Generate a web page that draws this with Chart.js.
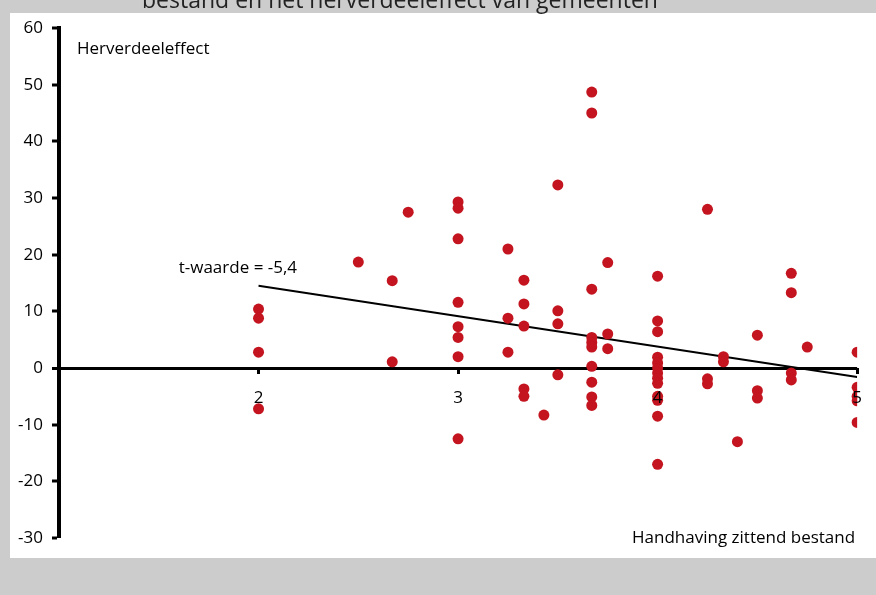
<!DOCTYPE html>
<html>
<head>
<meta charset="utf-8">
<script src="https://cdn.jsdelivr.net/npm/chart.js@4"></script>
<style>
  html, body { margin: 0; padding: 0; background: #cccccc; }
  #wrap { width: 876px; height: 595px; }
</style>
</head>
<body>
<div id="wrap"><canvas id="chart" width="876" height="595"></canvas></div>
<script>
// Handhaving zittend bestand (x) tegen herverdeeleffect (y)
const xVals = [
  2, 2, 2, 2,
  2.5,
  2.67, 2.67,
  2.75,
  3, 3, 3, 3, 3, 3, 3, 3,
  3.25, 3.25, 3.25,
  3.33, 3.33, 3.33, 3.33, 3.33,
  3.43,
  3.5, 3.5, 3.5, 3.5,
  3.67, 3.67, 3.67, 3.67, 3.67, 3.67, 3.67, 3.67, 3.67, 3.67,
  3.75, 3.75, 3.75,
  4, 4, 4, 4, 4, 4, 4, 4, 4, 4, 4, 4, 4,
  4.25, 4.25, 4.25,
  4.33, 4.33,
  4.4,
  4.5, 4.5, 4.5,
  4.67, 4.67, 4.67, 4.67,
  4.75,
  5, 5, 5, 5, 5
];
const yVals = [
  10.4, 8.8, 2.8, -7.2,
  18.7,
  15.4, 1.1,
  27.5,
  29.3, 28.2, 22.8, 11.6, 7.3, 5.4, 2.0, -12.5,
  21.0, 8.8, 2.8,
  15.5, 11.3, 7.4, -3.7, -5.0,
  -8.3,
  32.3, 10.1, 7.8, -1.2,
  48.7, 45.0, 13.9, 5.4, 4.5, 3.7, 0.3, -2.5, -5.1, -6.6,
  18.6, 6.0, 3.4,
  16.2, 8.3, 6.4, 1.9, 0.9, 0, -0.9, -1.8, -2.7, -5.0, -5.7, -8.5, -17.0,
  28.0, -1.9, -2.8,
  2.0, 1.1,
  -13.0,
  5.8, -4.0, -5.3,
  16.7, 13.3, -0.9, -2.1,
  3.7,
  2.8, -3.4, -5.0, -5.8, -9.6
];
// trendlijn
const trendX = [2, 5];
const trendY = [14.5, -1.6];

const yTicks = [-30, -20, -10, 0, 10, 20, 30, 40, 50, 60];
const xTicks = [1, 2, 3, 4, 5];

const titleText = 'bestand en het herverdeeleffect van gemeenten';
const yTitle = 'Herverdeeleffect';
const xTitle = 'Handhaving zittend bestand';
const tLabel = 't-waarde = -5,4';

const FONT = '"Open Sans", "DejaVu Sans", sans-serif';

const points = xVals.map((x, i) => ({ x: x, y: yVals[i] }));
const trend = trendX.map((x, i) => ({ x: x, y: trendY[i] }));

// achtergrond + losse teksten
const decor = {
  id: 'decor',
  beforeDraw(chart) {
    const c = chart.ctx;
    c.save();
    c.fillStyle = '#cccccc';
    c.fillRect(0, 0, chart.width, chart.height);
    c.fillStyle = '#ffffff';
    c.fillRect(10, 13, chart.width - 10, 545);
    c.fillStyle = '#222222';
    c.font = '23px ' + FONT;
    c.textAlign = 'center';
    c.textBaseline = 'alphabetic';
    c.fillText(titleText, 400, 8);
    c.restore();
  },
  afterDraw(chart) {
    const c = chart.ctx;
    const xs = chart.scales.x, ys = chart.scales.y;
    c.save();
    c.fillStyle = '#000000';
    c.font = '17px ' + FONT;
    c.textBaseline = 'middle';
    c.textAlign = 'left';
    c.fillText(yTitle, xs.getPixelForValue(1.09), ys.getPixelForValue(56.3));
    c.fillText(tLabel, xs.getPixelForValue(1.6), ys.getPixelForValue(17.6));
    c.textAlign = 'right';
    c.fillText(xTitle, xs.getPixelForValue(4.99), ys.getPixelForValue(-30));
    c.restore();
  }
};

new Chart(document.getElementById('chart'), {
  type: 'scatter',
  data: {
    datasets: [
      {
        label: 'gemeenten',
        data: points,
        backgroundColor: '#c3141f',
        borderWidth: 0,
        pointRadius: 5.5,
        pointHoverRadius: 5.5
      },
      {
        type: 'line',
        label: 'trend',
        data: trend,
        borderColor: '#000000',
        borderWidth: 2,
        pointRadius: 0,
        fill: false
      }
    ]
  },
  options: {
    responsive: false,
    animation: false,
    events: [],
    layout: { padding: { left: 10, top: 28, right: 17, bottom: 57 } },
    plugins: { legend: { display: false }, tooltip: { enabled: false } },
    scales: {
      x: {
        type: 'linear',
        position: { y: 0 },
        min: 1, max: 5,
        afterBuildTicks: s => { s.ticks = xTicks.map(v => ({ value: v })); },
        ticks: {
          z: 1, // labels boven de punten
          color: '#000000',
          font: { family: FONT, size: 17 },
          padding: 14,
          callback: v => (v === 1 ? '' : v)
        },
        grid: { drawOnChartArea: false, tickLength: 6, tickWidth: 3, tickColor: '#000000' },
        border: { display: false }
      },
      y: {
        type: 'linear',
        position: 'left',
        min: -30, max: 60,
        afterBuildTicks: s => { s.ticks = yTicks.map(v => ({ value: v })); },
        afterFit: s => { s.width = 49; },
        ticks: {
          color: '#000000',
          font: { family: FONT, size: 17 },
          padding: 9
        },
        // alleen de nullijn als x-as, onder de punten
        grid: {
          drawOnChartArea: true,
          color: ctx => (ctx.tick && ctx.tick.value === 0 ? '#000000' : 'rgba(0,0,0,0)'),
          lineWidth: ctx => (ctx.tick && ctx.tick.value === 0 ? 3 : 0),
          tickLength: 7, tickWidth: 3, tickColor: '#000000'
        },
        border: { color: '#000000', width: 4 }
      }
    }
  },
  plugins: [decor]
});
</script>
</body>
</html>
